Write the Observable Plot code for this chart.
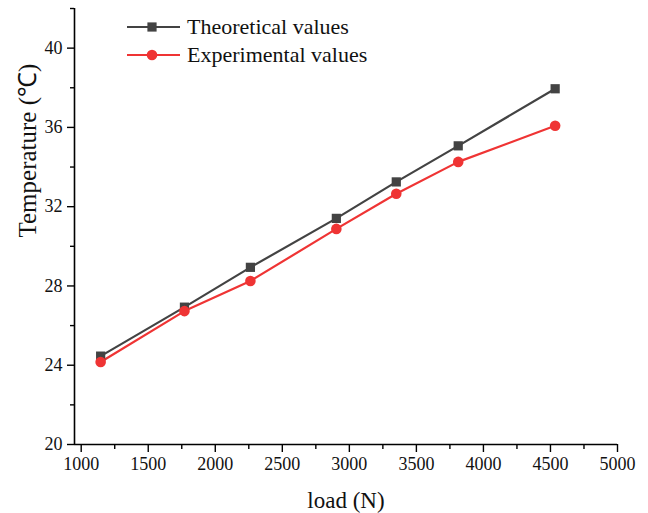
<!DOCTYPE html>
<html>
<head>
<meta charset="utf-8">
<script src="https://cdn.jsdelivr.net/npm/d3@7"></script>
<script src="https://cdn.jsdelivr.net/npm/@observablehq/plot@0.6"></script>
<style>
  html, body { margin: 0; padding: 0; background: #fff; }
  #wrap { position: relative; width: 648px; height: 513px; font-family: "Liberation Serif", "Times New Roman", serif; }
  #legend { position: absolute; left: 0; top: 0; pointer-events: none; }
</style>
</head>
<body>
<div id="wrap"></div>
<script>
// Data
const loads        = [1145, 1770, 2262, 2903, 3350, 3812, 4535];
const theoretical  = [24.46, 26.93, 28.94, 31.41, 33.25, 35.07, 37.95];
const experimental = [24.16, 26.73, 28.25, 30.88, 32.65, 34.26, 36.08];
const seriesNames  = ["Theoretical values", "Experimental values"];
const xMajor = [1000, 1500, 2000, 2500, 3000, 3500, 4000, 4500, 5000];
const xMinor = [1250, 1750, 2250, 2750, 3250, 3750, 4250, 4750];
const yMajor = [20, 24, 28, 32, 36, 40];
const yMinor = [22, 26, 30, 34, 38, 42];

const colors = {"Theoretical values": "#434343", "Experimental values": "#ef3434"};

const theo = loads.map((x, i) => ({x, y: theoretical[i], s: seriesNames[0]}));
const expe = loads.map((x, i) => ({x, y: experimental[i], s: seriesNames[1]}));

const font = '"Liberation Serif", "Times New Roman", serif';
const fmt = d => String(d);

const chart = Plot.plot({
  width: 648,
  height: 513,
  marginLeft: 74,
  marginRight: 31,
  marginTop: 8,
  marginBottom: 69,
  style: {fontFamily: font, background: "#fff", color: "#000"},
  x: {domain: [950, 5000]},
  y: {domain: [20, 42]},
  marks: [
    Plot.axisX({ticks: xMajor, tickFormat: fmt, tickSize: 8, tickPadding: 5, fontSize: 18, fontFamily: font, label: null, stroke: "#000", strokeWidth: 1.4, fill: "#111"}),
    Plot.axisX({ticks: xMinor, tickSize: 5, text: null, label: null, stroke: "#000", strokeWidth: 1.4}),
    Plot.axisY({ticks: yMajor, tickFormat: fmt, tickSize: 7, tickPadding: 5, fontSize: 18, fontFamily: font, label: null, stroke: "#000", strokeWidth: 1.4, fill: "#111"}),
    Plot.axisY({ticks: yMinor, tickSize: 4, text: null, label: null, stroke: "#000", strokeWidth: 1.4}),
    Plot.ruleY([20], {stroke: "#000", strokeWidth: 1.6}),
    Plot.ruleX([950], {stroke: "#000", strokeWidth: 1.6}),
    Plot.line(theo, {x: "x", y: "y", stroke: colors[seriesNames[0]], strokeWidth: 2.2}),
    Plot.line(expe, {x: "x", y: "y", stroke: colors[seriesNames[1]], strokeWidth: 2.2}),
    Plot.dot(theo, {x: "x", y: "y", symbol: "square", r: 5.2, fill: colors[seriesNames[0]], stroke: "none"}),
    Plot.dot(expe, {x: "x", y: "y", symbol: "circle", r: 5.3, fill: colors[seriesNames[1]], stroke: "none"}),
    Plot.text(["load (N)"], {frameAnchor: "bottom", dy: 56, fontSize: 23, fontFamily: font, lineAnchor: "middle", fill: "#111"}),
    Plot.text(["Temperature (℃)"], {frameAnchor: "left", dx: -47, dy: 11, rotate: -90, fontSize: 25, fontFamily: font, lineAnchor: "middle", fill: "#111"})
  ]
});

const wrap = document.getElementById("wrap");
wrap.appendChild(chart);

// Legend overlay
const leg = d3.select(wrap).append("svg")
  .attr("id", "legend")
  .attr("width", 648).attr("height", 80);
const rows = [
  {name: seriesNames[0], y: 27, sym: "square"},
  {name: seriesNames[1], y: 55, sym: "circle"}
];
rows.forEach(r => {
  const c = colors[r.name];
  leg.append("line").attr("x1", 127).attr("x2", 180).attr("y1", r.y).attr("y2", r.y)
    .attr("stroke", c).attr("stroke-width", 2.2);
  if (r.sym === "square") {
    leg.append("rect").attr("x", 152 - 4.6).attr("y", r.y - 4.6).attr("width", 9.2).attr("height", 9.2).attr("fill", c);
  } else {
    leg.append("circle").attr("cx", 152).attr("cy", r.y).attr("r", 5.3).attr("fill", c);
  }
  leg.append("text").attr("x", 187).attr("y", r.y).attr("dy", "0.33em")
    .style("font-family", font).style("font-size", "22px").attr("fill", "#111").text(r.name);
});
</script>
</body>
</html>
